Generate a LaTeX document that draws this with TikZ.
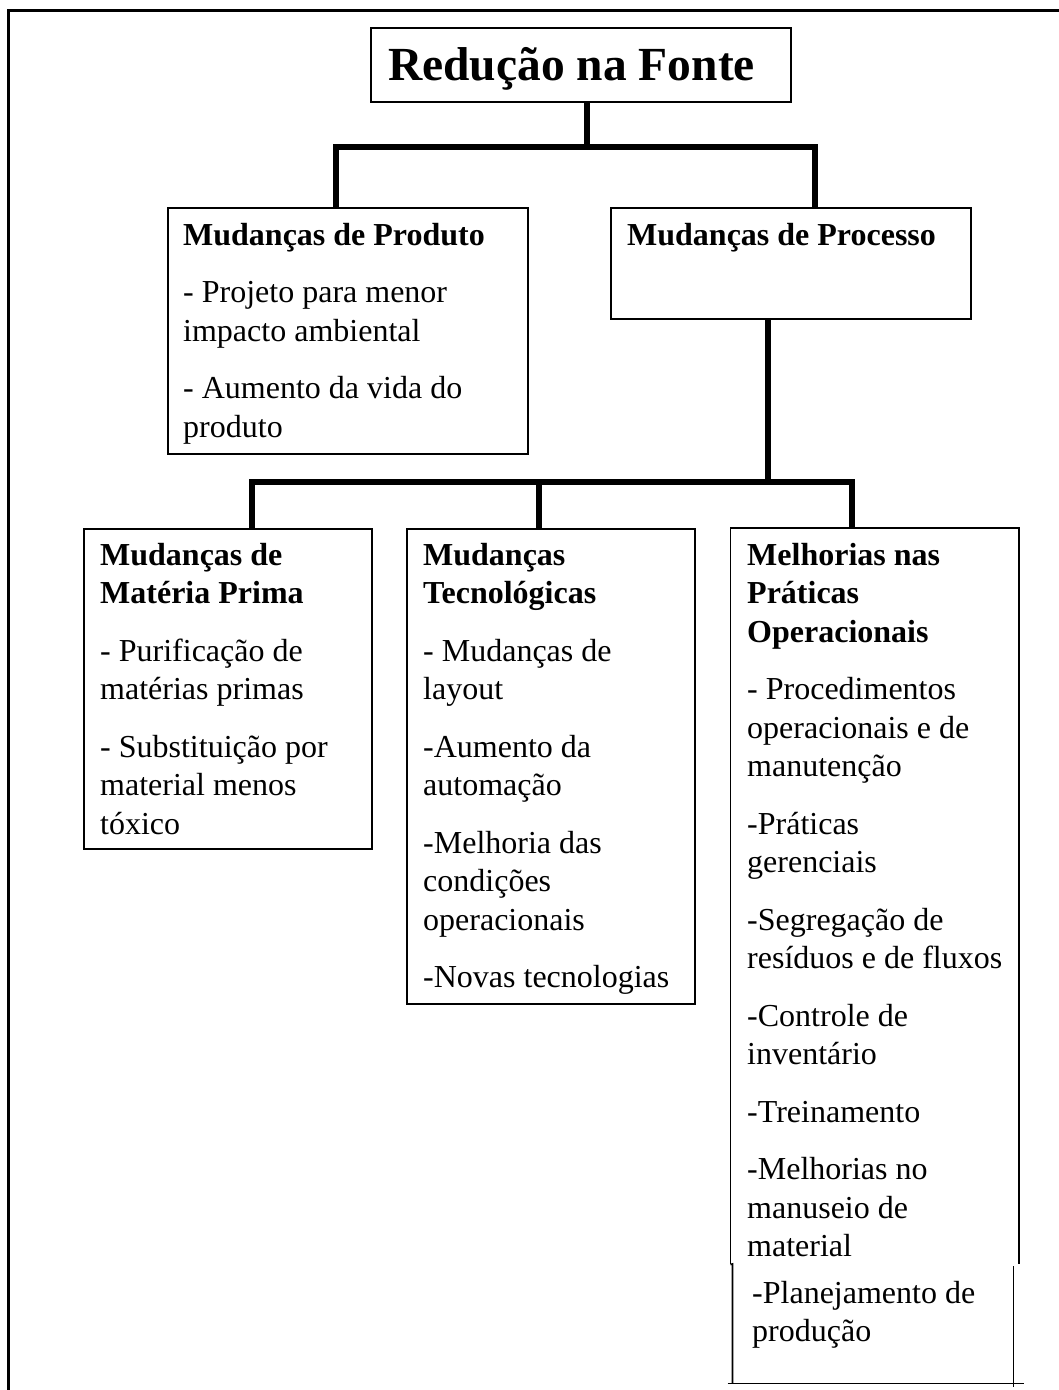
\documentclass[tikz,border=0pt]{standalone}
\usepackage{fontspec}
\setmainfont{Liberation Serif}
% strut that fixes the height of the first line of every text block
\newcommand\firstline{\rule{0pt}{25pt}}
\begin{document}
\begin{tikzpicture}[x=1pt,y=-1pt,
  panel/.style={draw=black,line width=1.8pt,anchor=north west,inner sep=0pt},
  openpanel/.style={anchor=north west,inner sep=0pt},
  boxline/.style={draw=black,line width=1.8pt},
  conn/.style={draw=black,line width=6pt,line join=miter},
  txt/.style={anchor=north west,inner sep=0pt,align=left,
    font=\fontsize{32}{38.5}\selectfont}]
\useasboundingbox (0,0) rectangle (1059,1390);
\clip (0,0) rectangle (1059,1390);

% outer frame (top and left edges)
\draw[line width=3pt] (8,1400) -- (8,10) -- (1070,10);

% boxes
\node[panel,minimum width=420pt,minimum height=74pt] (title) at (370,27) {};
\node[panel,minimum width=360pt,minimum height=246pt] (prod) at (167,207) {};
\node[panel,minimum width=360pt,minimum height=111pt] (proc) at (610,207) {};
\node[panel,minimum width=288pt,minimum height=320pt] (mat) at (83,528) {};
\node[panel,minimum width=288pt,minimum height=475pt] (tec) at (406,528) {};
\node[openpanel,minimum width=288pt,minimum height=736pt] (melh) at (730.5,528) {};
\node[openpanel,minimum width=280.5pt,minimum height=119pt] (melhb) at (732.5,1264) {};

% the last box is drawn in two pieces
\draw[boxline] (melh.south west) -- (melh.north west) -- (melh.north east) -- (melh.south east);
\draw[boxline] (melh.south west) -- (melhb.north west) -- (melhb.south west);
\draw[boxline] ([yshift=-2pt]melhb.north east) -- ([yshift=-4pt]melhb.south east);
\draw[boxline] ([xshift=-5pt]melhb.south west) -- ([xshift=11pt]melhb.south east);

% texts
\node[anchor=base west,inner sep=0pt,font=\fontsize{47.5}{55}\selectfont\bfseries]
  (titletxt) at (388,80) {Redução na Fonte};
\node[txt] (prodtxt) at (183,220) {\firstline\textbf{Mudanças de Produto}\\[19pt]%
- Projeto para menor\\impacto ambiental\\[19pt]%
- Aumento da vida do\\produto};
\node[txt] (proctxt) at (627,220) {\firstline\textbf{Mudanças de Processo}};
\node[txt] (mattxt) at (100,540) {\firstline\textbf{Mudanças de}\\\textbf{Matéria Prima}\\[19pt]%
- Purificação de\\matérias primas\\[19pt]%
- Substituição por\\material menos\\tóxico};
\node[txt] (tectxt) at (423,540) {\firstline\textbf{Mudanças}\\\textbf{Tecnológicas}\\[19pt]%
- Mudanças de\\layout\\[19pt]%
-Aumento da\\automação\\[19pt]%
-Melhoria das\\condições\\operacionais\\[19pt]%
-Novas tecnologias};
\node[txt] (melhtxt) at (747,540) {\firstline\textbf{Melhorias nas}\\\textbf{Práticas}\\\textbf{Operacionais}\\[19pt]%
- Procedimentos\\operacionais e de\\manutenção\\[19pt]%
-Práticas\\gerenciais\\[19pt]%
-Segregação de\\resíduos e de fluxos\\[19pt]%
-Controle de\\inventário\\[19pt]%
-Treinamento\\[19pt]%
-Melhorias no\\manuseio de\\material};
\node[txt] (melhbtxt) at (752,1278) {\firstline-Planejamento de\\produção};

% connector bars
\coordinate (bar1) at (0,147);
\coordinate (bar2) at (0,482);
\coordinate (d0) at ([xshift=6pt]title.south);
\coordinate (d1) at ([xshift=-12pt]prod.north);
\coordinate (d2) at ([xshift=24pt]proc.north);
\coordinate (d3) at ([xshift=-23pt]proc.south);
\coordinate (e1) at ([xshift=24pt]mat.north);
\coordinate (e2) at ([xshift=-12pt]tec.north);
\coordinate (e3) at ([xshift=-23pt]melh.north);

\draw[conn] (d0) -- (d0 |- bar1);
\draw[conn] (d1) -- (d1 |- bar1) -- (d2 |- bar1) -- (d2);
\draw[conn] (d3) -- (d3 |- bar2);
\draw[conn] (e1) -- (e1 |- bar2) -- (e3 |- bar2) -- (e3);
\draw[conn] (e2) -- (e2 |- bar2);
\end{tikzpicture}
\end{document}
